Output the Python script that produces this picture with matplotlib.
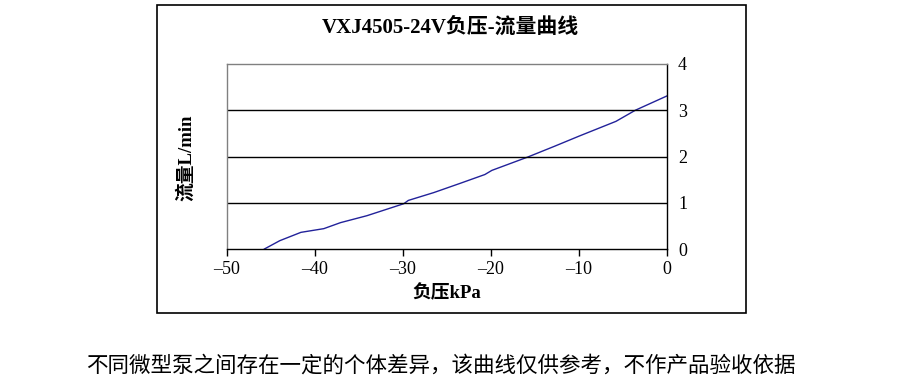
import matplotlib
matplotlib.use("Agg")
import matplotlib.pyplot as plt
from matplotlib.patches import Rectangle

pressure_kpa = [-45.75, -44.0, -41.6, -39.0, -37.1, -34.1, -29.9, -29.4, -26.5,
                -23.5, -20.7, -19.9, -15.8, -12.8, -10.0, -5.8, -3.6, 0.0]
flow_lpm = [0.0, 0.18, 0.36, 0.44, 0.57, 0.72, 0.98, 1.05, 1.22,
            1.42, 1.61, 1.70, 1.99, 2.22, 2.44, 2.76, 3.00, 3.31]
x_ticks = [-50, -40, -30, -20, -10, 0]
y_ticks = [0, 1, 2, 3, 4]

title = "VXJ4505-24V负压-流量曲线"
xlabel = "负压kPa"
ylabel = "流量L/min"
footer = "不同微型泵之间存在一定的个体差异，该曲线仅供参考，不作产品验收依据"

fam = ['Liberation Serif', 'Noto Sans CJK SC', 'DejaVu Sans']
plt.rcParams['font.family'] = fam

W, H = 900, 385
fig = plt.figure(figsize=(9, 3.85), dpi=100)

# outer frame
fig.patches.append(Rectangle((157 / W, 1 - 313 / H), (746 - 157) / W, (313 - 5) / H,
                             transform=fig.transFigure, fill=False,
                             edgecolor='black', linewidth=1.2))

ax = fig.add_axes([227 / W, 1 - 249 / H, 440 / W, 185 / H])
ax.plot(pressure_kpa, flow_lpm, color='#22229a', linewidth=1.0)
ax.set_xlim(-50, 0)
ax.set_ylim(0, 4)
ax.set_xticks(x_ticks)
ax.set_xticklabels([str(v).replace('-', '–') for v in x_ticks])
ax.set_yticks(y_ticks)
ax.yaxis.tick_right()
for v in y_ticks[1:-1]:
    ax.axhline(v, color='black', linewidth=1.0)
ax.spines['left'].set_color('#808080')
ax.spines['top'].set_color('#808080')
ax.spines['right'].set_color('black')
ax.spines['bottom'].set_color('black')
for s in ax.spines.values():
    s.set_linewidth(1.0)
ax.tick_params(axis='x', direction='out', length=5, width=1, labelsize=13, pad=4)
ax.tick_params(axis='y', direction='out', length=0, labelsize=13, pad=8)

fig.text(450 / W, 1 - 28 / H, title, ha='center', va='center', fontsize=15,
         fontweight='bold')
fig.text(447 / W, 1 - 293 / H, xlabel, ha='center', va='center', fontsize=13.5,
         fontweight='bold')
fig.text(186 / W, 1 - 158 / H, ylabel, ha='center', va='center', fontsize=13.5,
         fontweight='bold', rotation=90)
fig.text(86 / W, 1 - 366 / H, footer, ha='left', va='center', fontsize=15.5,
         family=['Noto Sans CJK SC', 'DejaVu Sans'])

fig.savefig('out.png', dpi=100)
